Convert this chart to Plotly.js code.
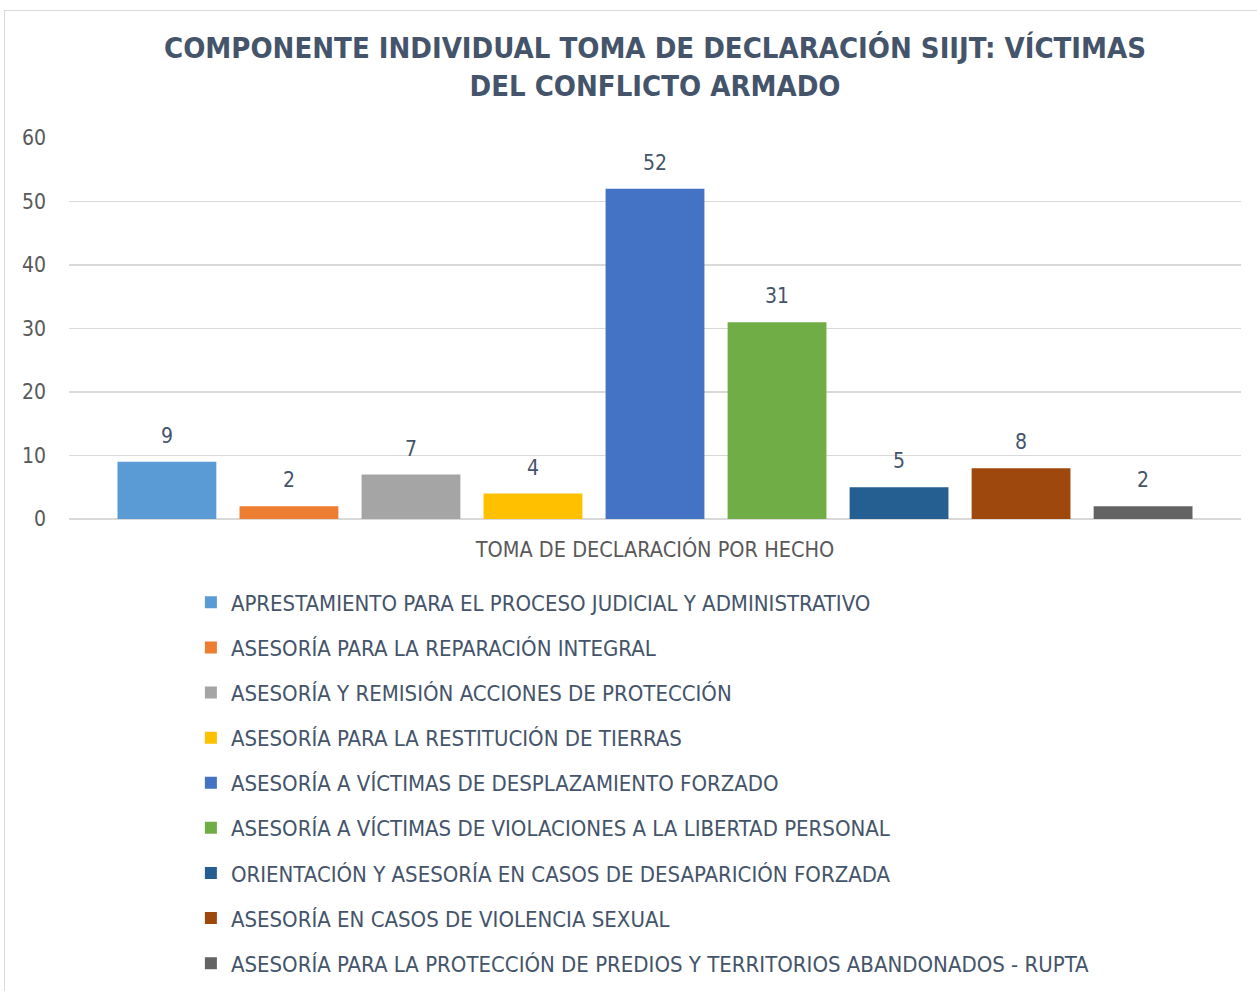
<!DOCTYPE html>
<html><head><meta charset="utf-8">
<script src="https://cdn.plot.ly/plotly-3.0.1.min.js"></script>
<style>
html,body{margin:0;padding:0;background:#fff;overflow:hidden;}
#frame{position:absolute;left:4px;top:10px;width:1270px;height:1000px;border:1px solid #d9d9d9;}
#chart{position:absolute;left:0;top:0;width:1260px;height:990px;}
</style></head>
<body>
<div id="frame"><div id="chart"></div></div>
<script>
const category = "TOMA DE DECLARACIÓN POR HECHO";
const seriesNames = [
  "APRESTAMIENTO PARA EL PROCESO JUDICIAL Y ADMINISTRATIVO",
  "ASESORÍA PARA LA REPARACIÓN INTEGRAL",
  "ASESORÍA Y REMISIÓN ACCIONES DE PROTECCIÓN",
  "ASESORÍA PARA LA RESTITUCIÓN DE TIERRAS",
  "ASESORÍA A VÍCTIMAS DE DESPLAZAMIENTO FORZADO",
  "ASESORÍA A VÍCTIMAS DE VIOLACIONES A LA LIBERTAD PERSONAL",
  "ORIENTACIÓN Y ASESORÍA EN CASOS DE DESAPARICIÓN FORZADA",
  "ASESORÍA EN CASOS DE VIOLENCIA SEXUAL",
  "ASESORÍA PARA LA PROTECCIÓN DE PREDIOS Y TERRITORIOS ABANDONADOS - RUPTA"
];
const seriesValues = [9, 2, 7, 4, 52, 31, 5, 8, 2];
const seriesColors = ["#5b9bd5","#ed7d31","#a5a5a5","#ffc000","#4472c4","#70ad47","#255e91","#9e480e","#636363"];
const yTicks = [0, 10, 20, 30, 40, 50, 60];

const FONT = "DejaVu Sans Condensed, Liberation Sans Narrow, sans-serif";
const TXT = "#44546a";
const BARGAP = 0.063;
const N = seriesValues.length;

const traces = seriesNames.map((name, i) => ({
  type: "bar",
  name: name,
  x: [category],
  y: [seriesValues[i]],
  marker: {color: seriesColors[i]},
  legendgroup: "g" + i,
  hoverinfo: "y+name"
}));

// value labels above each bar, positioned on the bar's slot within the group
const annotations = seriesValues.map((v, i) => ({
  xref: "x", yref: "y",
  x: (i - (N - 1) / 2) * (1 - BARGAP) / N,
  y: v,
  text: String(v),
  showarrow: false,
  yanchor: "bottom",
  yshift: 12,
  font: {family: FONT, size: 21, color: "#44546a"}
}));

const layout = {
  width: 1260, height: 990,
  paper_bgcolor: "#ffffff", plot_bgcolor: "#ffffff",
  font: {family: FONT, color: TXT},
  margin: {l: 64, r: 24, t: 127, b: 482},
  title: {
    text: "<b>COMPONENTE INDIVIDUAL TOMA DE DECLARACIÓN SIIJT: VÍCTIMAS<br>DEL CONFLICTO ARMADO</b>",
    font: {family: FONT, size: 29, color: "#44546a"},
    x: 0.5, xanchor: "center", xref: "paper",
    y: 0.9526, yanchor: "middle", yref: "container"
  },
  barmode: "group",
  bargap: BARGAP,
  bargroupgap: 0.19,
  xaxis: {
    type: "category",
    showgrid: false, zeroline: false, showline: false,
    tickfont: {family: FONT, size: 21.5, color: "#595959"},
    ticks: "", ticklabelstandoff: 15
  },
  yaxis: {
    range: [0, 60],
    tickvals: yTicks,
    showgrid: true, gridcolor: "#d9d9d9", gridwidth: 1.5,
    zeroline: true, zerolinecolor: "#d9d9d9", zerolinewidth: 1.5,
    showline: false, ticks: "",
    tickfont: {family: FONT, size: 21, color: "#595959"},
    ticklabelstandoff: 22
  },
  annotations: annotations,
  showlegend: true,
  legend: {
    orientation: "v",
    x: 0.104, xanchor: "left", xref: "paper",
    y: 0.4237, yanchor: "top", yref: "container",
    font: {family: FONT, size: 22, color: "#44546a"},
    traceorder: "grouped",
    tracegroupgap: 13.5,
    itemclick: false
  }
};

Plotly.newPlot("chart", traces, layout, {displayModeBar: false, staticPlot: true});
</script>
</body></html>
